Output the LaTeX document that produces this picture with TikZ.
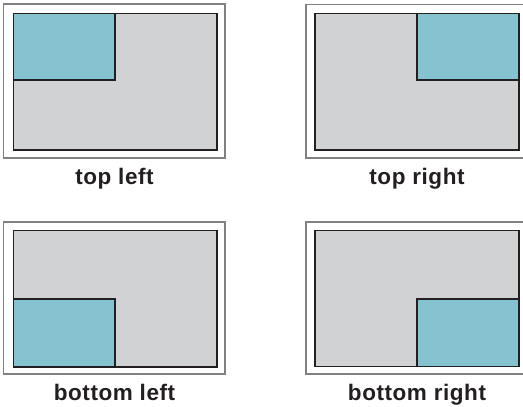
\documentclass[tikz,border=0pt]{standalone}
\usepackage{fontspec}
\setmainfont{Liberation Sans}[LetterSpace=2.5]
\definecolor{panelgray}{RGB}{209,210,212}
\definecolor{paneblue}{RGB}{134,195,208}
\definecolor{framegray}{RGB}{128,128,128}
\definecolor{inkdark}{RGB}{35,31,32}
\begin{document}
\begin{tikzpicture}[x=1pt,y=-1pt,
  outerframe/.style={draw=framegray,line width=1.4pt},
  innerfill/.style={fill=panelgray},
  innerborder/.style={draw=inkdark,line width=1.6pt},
  bluebox/.style={fill=paneblue,draw=inkdark,line width=1.1pt},
  caption/.style={font=\fontsize{22.5}{25}\selectfont\bfseries,text=inkdark,anchor=base,inner sep=0pt}]
\useasboundingbox (0,0) rectangle (523,407);
% top left
\draw[outerframe] (3.5,4) rectangle (225,158);
\fill[innerfill] (13.5,13.5) rectangle (217,150);
\draw[bluebox] (13.5,13.5) rectangle (115,80);
\draw[innerborder] (13.5,13.5) rectangle (217,150);
\node[caption] (tl) at (114.5,184) {top left};
% top right
\draw[outerframe] (306,4.5) rectangle (527,158);
\fill[innerfill] (315,13.5) rectangle (519,150);
\draw[bluebox] (417,13.5) rectangle (519,80);
\draw[innerborder] (315,13.5) rectangle (519,150);
\node[caption] (tr) at (417,184) {top right};
% bottom left
\draw[outerframe] (3.5,222) rectangle (225,374);
\fill[innerfill] (13.5,230.5) rectangle (217,367);
\draw[bluebox] (13.5,299) rectangle (115,367);
\draw[innerborder] (13.5,230.5) rectangle (217,367);
\node[caption] (bl) at (114.5,400) {bottom left};
% bottom right
\draw[outerframe] (306,222) rectangle (527,374);
\fill[innerfill] (315,230.5) rectangle (519,366.5);
\draw[bluebox] (417,299) rectangle (519,366.5);
\draw[innerborder] (315,230.5) rectangle (519,366.5);
\node[caption] (br) at (417,400) {bottom right};
\end{tikzpicture}
\end{document}
